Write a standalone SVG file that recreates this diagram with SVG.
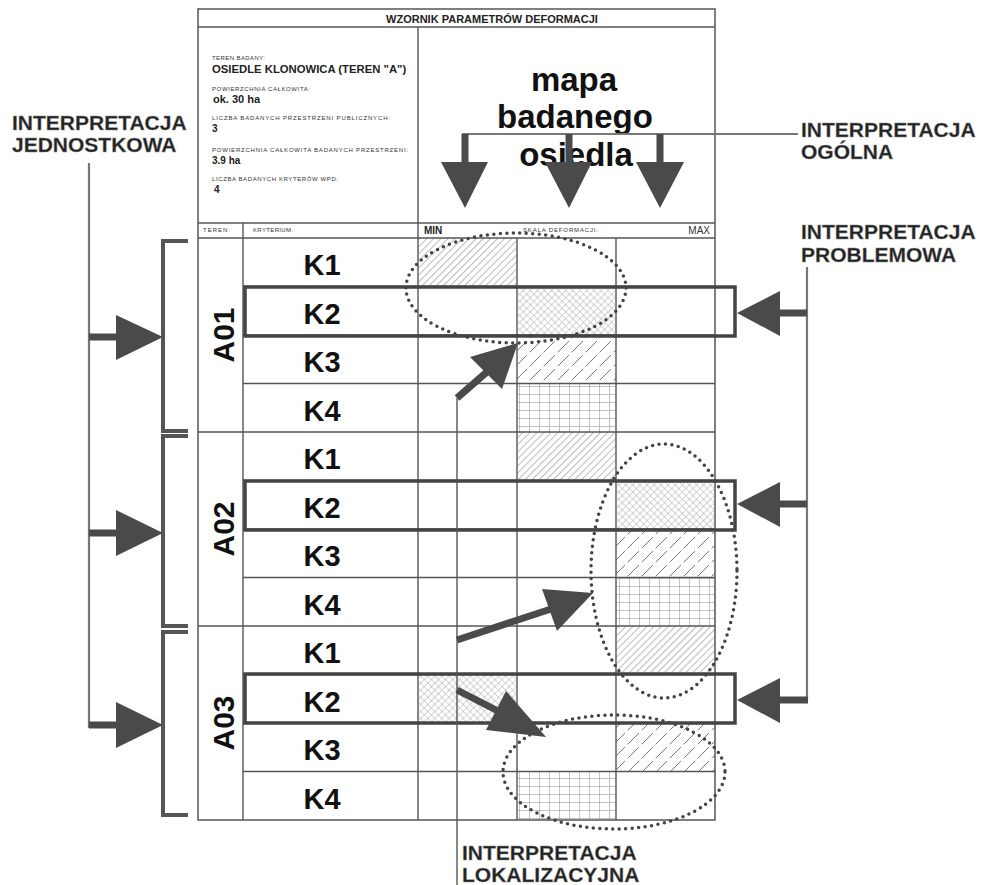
<svg xmlns="http://www.w3.org/2000/svg" width="987" height="885" viewBox="0 0 987 885">
<style>
.frame{fill:none;stroke:#555;stroke-width:1.5}
.grid{stroke:#555;stroke-width:1.4;fill:none}
.tiny{font-family:"Liberation Sans",Arial,sans-serif;font-size:6px;fill:#333}
.val{font-family:"Liberation Sans",Arial,sans-serif;font-weight:bold;fill:#222}
.k{font-family:"Liberation Sans",Arial,sans-serif;font-weight:bold;font-size:29px;fill:#111;text-anchor:middle}
.a{font-family:"Liberation Sans",Arial,sans-serif;font-weight:bold;font-size:30px;fill:#111;text-anchor:middle}
.lbl{font-family:"Liberation Sans",Arial,sans-serif;font-weight:bold;font-size:21px;fill:#222;stroke:#888;stroke-width:0.4}
.map{font-family:"Liberation Sans",Arial,sans-serif;font-weight:bold;font-size:33px;fill:#111;text-anchor:middle}
.box{fill:none;stroke:#444;stroke-width:3.5}
.brk{fill:none;stroke:#555;stroke-width:4}
.thin{stroke:#777;stroke-width:2.2;fill:none}
.shaft{stroke:#4a4a4a;stroke-width:7;fill:none}
.head{fill:#4a4a4a}
.dots{fill:none;stroke:#444;stroke-width:3.5;stroke-dasharray:0 6.5;stroke-linecap:round}
</style>
<defs>
<pattern id="diag" patternUnits="userSpaceOnUse" width="5" height="5" patternTransform="rotate(45)">
<line x1="0" y1="0" x2="0" y2="5" stroke="#666" stroke-width="0.9"/>
</pattern>
<pattern id="cross" patternUnits="userSpaceOnUse" width="5" height="5" patternTransform="rotate(45)">
<line x1="0" y1="0" x2="0" y2="5" stroke="#999" stroke-width="0.8"/>
<line x1="0" y1="0" x2="5" y2="0" stroke="#999" stroke-width="0.8"/>
</pattern>
<pattern id="dash" patternUnits="userSpaceOnUse" width="14" height="14">
<path d="M-1,15 L15,-1" stroke="#666" stroke-width="0.9" stroke-dasharray="14 4" fill="none"/>
<path d="M-8,8 L8,-8 M6,22 L22,6" stroke="#888" stroke-width="0.8" stroke-dasharray="4 6" fill="none"/>
</pattern>
<pattern id="gridp" patternUnits="userSpaceOnUse" width="10" height="8" x="519" y="386">
<line x1="0" y1="0" x2="0" y2="8" stroke="#888" stroke-width="1"/>
<line x1="0" y1="0" x2="10" y2="0" stroke="#888" stroke-width="1"/>
</pattern>
</defs>
<rect width="987" height="885" fill="#fff"/>

<g id="template">
<rect class="frame" x="198" y="9" width="517" height="811"/>
<line class="grid" x1="198" y1="27" x2="715" y2="27"/>
<line class="grid" x1="418" y1="27" x2="418" y2="820"/>
<line class="grid" x1="198" y1="223" x2="715" y2="223"/>
<line class="grid" x1="198" y1="238" x2="715" y2="238"/>
<line class="grid" x1="243" y1="223" x2="243" y2="820"/>
<line class="grid" x1="517" y1="238" x2="517" y2="820"/>
<line class="grid" x1="616" y1="238" x2="616" y2="820"/>
<text class="val" x="492" y="23" font-size="11" text-anchor="middle">WZORNIK PARAMETRÓW DEFORMACJI</text>
<text class="tiny" x="212" y="60" textLength="53" lengthAdjust="spacing">TEREN BADANY:</text>
<text class="val" x="212" y="73" font-size="11.3">OSIEDLE KLONOWICA (TEREN "A")</text>
<text class="tiny" x="212" y="91" textLength="98" lengthAdjust="spacing">POWIERZCHNIA CAŁKOWITA:</text>
<text class="val" x="213" y="103" font-size="11">ok. 30 ha</text>
<text class="tiny" x="212" y="120" textLength="178" lengthAdjust="spacing">LICZBA BADANYCH PRZESTRZENI PUBLICZNYCH:</text>
<text class="val" x="212" y="132" font-size="10">3</text>
<text class="tiny" x="212" y="152" textLength="196" lengthAdjust="spacing">POWIERZCHNIA CAŁKOWITA BADANYCH PRZESTRZENI:</text>
<text class="val" x="212" y="164" font-size="10">3.9 ha</text>
<text class="tiny" x="212" y="181" textLength="126" lengthAdjust="spacing">LICZBA BADANYCH KRYTERÓW WPD:</text>
<text class="val" x="214" y="193" font-size="10">4</text>
<text class="tiny" x="203" y="232" textLength="27" lengthAdjust="spacing">TEREN:</text>
<text class="tiny" x="253" y="232" textLength="40" lengthAdjust="spacing">KRYTERIUM:</text>
<text class="val" x="424" y="234" font-size="10">MIN</text>
<text class="tiny" x="523" y="232" textLength="75" lengthAdjust="spacing">SKALA DEFORMACJI:</text>
<text x="710" y="234" font-family="Liberation Sans, Arial, sans-serif" font-size="10" fill="#333" text-anchor="end">MAX</text>
</g>

<g id="map-label">
<text class="map" x="574" y="91">mapa</text>
<text class="map" x="575" y="128">badanego</text>
<text class="map" x="576" y="166">osiedla</text>
</g>

<g id="cells">
<rect x="419" y="238" width="98" height="48.5" fill="url(#diag)"/>
<rect x="517" y="286.5" width="99" height="48.5" fill="url(#cross)"/>
<rect x="517" y="335" width="99" height="48.5" fill="url(#dash)"/>
<rect x="517" y="383.5" width="99" height="48.5" fill="url(#gridp)"/>
<rect x="517" y="432" width="99" height="48.5" fill="url(#diag)"/>
<rect x="616" y="480.5" width="99" height="48.5" fill="url(#cross)"/>
<rect x="616" y="529" width="99" height="48.5" fill="url(#dash)"/>
<rect x="616" y="577.5" width="99" height="48.5" fill="url(#gridp)"/>
<rect x="616" y="626" width="99" height="48.5" fill="url(#diag)"/>
<rect x="419" y="674.5" width="98" height="48.5" fill="url(#cross)"/>
<rect x="616" y="723" width="99" height="48.5" fill="url(#dash)"/>
<rect x="517" y="771.5" width="99" height="48.5" fill="url(#gridp)"/>
</g>

<g id="rows">
<g class="grid">
<line x1="243" y1="286.5" x2="715" y2="286.5"/>
<line x1="243" y1="335" x2="715" y2="335"/>
<line x1="243" y1="383.5" x2="715" y2="383.5"/>
<line x1="198" y1="432" x2="715" y2="432"/>
<line x1="243" y1="480.5" x2="715" y2="480.5"/>
<line x1="243" y1="529" x2="715" y2="529"/>
<line x1="243" y1="577.5" x2="715" y2="577.5"/>
<line x1="198" y1="626" x2="715" y2="626"/>
<line x1="243" y1="674.5" x2="715" y2="674.5"/>
<line x1="243" y1="723" x2="715" y2="723"/>
<line x1="243" y1="771.5" x2="715" y2="771.5"/>
</g>
</g>

<g id="group-A01">
<text class="a" transform="translate(234,335) rotate(-90)">A01</text>
<text class="k" x="322" y="275">K1</text>
<text class="k" x="322" y="323.5">K2</text>
<text class="k" x="322" y="372">K3</text>
<text class="k" x="322" y="420.5">K4</text>
</g>
<g id="group-A02">
<text class="a" transform="translate(234,529) rotate(-90)">A02</text>
<text class="k" x="322" y="469">K1</text>
<text class="k" x="322" y="517.5">K2</text>
<text class="k" x="322" y="566">K3</text>
<text class="k" x="322" y="614.5">K4</text>
</g>
<g id="group-A03">
<text class="a" transform="translate(234,723) rotate(-90)">A03</text>
<text class="k" x="322" y="663">K1</text>
<text class="k" x="322" y="711.5">K2</text>
<text class="k" x="322" y="760">K3</text>
<text class="k" x="322" y="808.5">K4</text>
</g>

<g id="highlight-boxes">
<rect class="box" x="245" y="287" width="490" height="49"/>
<rect class="box" x="245" y="481" width="490" height="49"/>
<rect class="box" x="245" y="674" width="490" height="49"/>
</g>

<g id="dotted-areas">
<ellipse class="dots" cx="516" cy="288" rx="110" ry="55"/>
<ellipse class="dots" cx="664" cy="571" rx="73" ry="127"/>
<ellipse class="dots" cx="614" cy="772" rx="111" ry="57"/>
</g>

<g id="label-jednostkowa">
<text class="lbl" x="12" y="130">INTERPRETACJA</text>
<text class="lbl" x="12" y="152">JEDNOSTKOWA</text>
</g>
<g id="label-ogolna">
<text class="lbl" x="801" y="137" font-size="20.5">INTERPRETACJA</text>
<text class="lbl" x="801" y="159" font-size="20.5">OGÓLNA</text>
</g>
<g id="label-problemowa">
<text class="lbl" x="801" y="239" font-size="20.5">INTERPRETACJA</text>
<text class="lbl" x="801" y="262" font-size="20.5">PROBLEMOWA</text>
</g>
<g id="label-lokalizacyjna">
<text class="lbl" x="462" y="860">INTERPRETACJA</text>
<text class="lbl" x="462" y="882">LOKALIZACYJNA</text>
</g>

<g id="connectors">
<line class="thin" x1="462" y1="134" x2="798" y2="134"/>
<line class="shaft" x1="465" y1="134" x2="465" y2="163" stroke-width="6"/>
<line class="shaft" x1="569" y1="134" x2="569" y2="163" stroke-width="6"/>
<line class="shaft" x1="660" y1="134" x2="660" y2="163" stroke-width="6"/>
<polygon class="head" points="441,162 488,162 465,208"/>
<polygon class="head" points="545,162 592,162 569,208"/>
<polygon class="head" points="636,162 684,162 660,208"/>
<line class="thin" x1="89" y1="163" x2="89" y2="728"/>
<line class="shaft" x1="89" y1="337" x2="118" y2="337"/>
<line class="shaft" x1="89" y1="533" x2="118" y2="533"/>
<line class="shaft" x1="89" y1="725" x2="118" y2="725"/>
<polygon class="head" points="116,315 163,337 116,360"/>
<polygon class="head" points="116,510 163,533 116,556"/>
<polygon class="head" points="116,702 163,725 116,748"/>
<path class="brk" d="M188,241 H163 V431 H188"/>
<path class="brk" d="M188,436 H163 V626 H188"/>
<path class="brk" d="M188,632 H163 V815 H188"/>
<line class="thin" x1="807" y1="267" x2="807" y2="700"/>
<line class="shaft" x1="778" y1="313" x2="807" y2="313"/>
<line class="shaft" x1="778" y1="504" x2="807" y2="504"/>
<line class="shaft" x1="778" y1="700" x2="808" y2="700"/>
<polygon class="head" points="780,291 737,313 780,336"/>
<polygon class="head" points="780,482 737,504 780,527"/>
<polygon class="head" points="780,678 737,700 780,723"/>
<line class="grid" x1="457" y1="398" x2="457" y2="885"/>
<line class="shaft" x1="457" y1="398" x2="488" y2="371"/>
<polygon class="head" points="470,357 518,343 502,389"/>
<line class="shaft" x1="457" y1="640" x2="551" y2="609"/>
<polygon class="head" points="542,589 593,593 557,631"/>
<line class="shaft" x1="457" y1="690" x2="498" y2="711"/>
<polygon class="head" points="506,691 546,737 486,730"/>
</g>
</svg>
